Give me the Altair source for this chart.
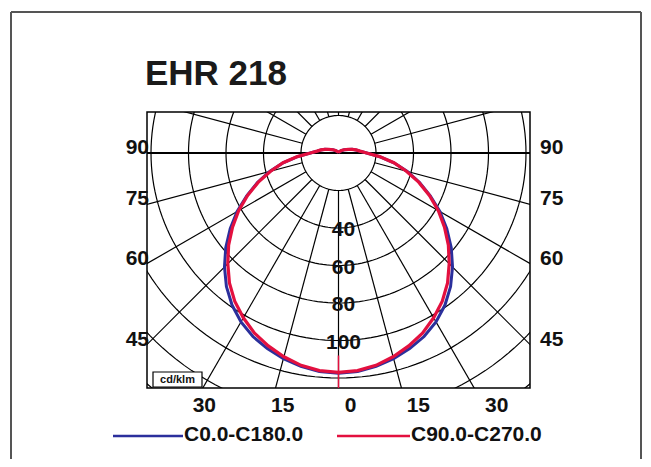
import math
import altair as alt
import pandas as pd

# ---------------- data ----------------
title_text = "EHR 218"
unit_label = "cd/klm"
legend_names = ["C0.0-C180.0", "C90.0-C270.0"]

gamma = [0, 5, 10, 15, 20, 25, 30, 35, 40, 45, 50, 55, 60, 65, 70, 75, 80, 85,
         90, 95, 100, 105, 110, 120, 130, 140, 150, 165, 180]
c0_c180 = [117.5, 117, 115.5, 113.5, 111, 108, 104, 99, 93, 86, 78.5, 70.5, 62.5,
           54, 46, 38, 30, 22, 15, 11.5, 9.5, 7.5, 5.5, 3.5, 2, 1.2, 0.7, 0.3, 0]
c90_c270 = [117, 116.5, 115, 112.5, 109.5, 106, 101.5, 96.5, 90.5, 83.5, 76.5, 69,
            61.5, 53.5, 45.5, 37.5, 30, 22, 15, 11.5, 9.5, 7.5, 5.5, 3.5, 2, 1.2,
            0.7, 0.3, 0]

ring_values = [20, 40, 60, 80, 100, 120, 140, 160]
ring_labels = [40, 60, 80, 100]
radial_angles = list(range(0, 360, 15))
side_labels = [90, 75, 60, 45]
bottom_labels = [-30, -15, 0, 15, 30]

# ---------------- layout ----------------
PX = 1.875                      # pixels per cd/klm
W, H = 383, 276                 # polar box in pixels
XH = W / 2 / PX
YTOP = 41 / PX
YBOT = YTOP - H / PX
FONT = "Liberation Sans"
BLUE = "#2b2f9c"
RED = "#e3103f"

xs = alt.Scale(domain=[-XH, XH], nice=False, zero=False)
ys = alt.Scale(domain=[YBOT, YTOP], nice=False, zero=False)


def X(f="x"):
    return alt.X(f"{f}:Q", scale=xs, axis=None)


def Y(f="y"):
    return alt.Y(f"{f}:Q", scale=ys, axis=None)


# rings
rows = []
for r in ring_values:
    for k in range(0, 361, 2):
        p = math.radians(k)
        rows.append({"ring": r, "k": k, "x": r * math.sin(p), "y": r * math.cos(p)})
rings_df = pd.DataFrame(rows)

# radial lines starting at the inner ring
rad_rows = []
for a in radial_angles:
    p = math.radians(a)
    r0, r1 = ring_values[0], 400
    rad_rows.append({"x": r0 * math.sin(p), "y": -r0 * math.cos(p),
                     "x2": r1 * math.sin(p), "y2": -r1 * math.cos(p)})
rad_df = pd.DataFrame(rad_rows)


def curve_df(vals):
    out = []
    full = [-g for g in gamma[::-1]] + gamma[1:]
    for i, g in enumerate(full):
        v = vals[gamma.index(abs(g))]
        p = math.radians(g)
        out.append({"i": i, "x": v * math.sin(p), "y": -v * math.cos(p)})
    return pd.DataFrame(out)


blue_df = curve_df(c0_c180)
red_df = curve_df(c90_c270)

ring_lab_df = pd.DataFrame({"x": [0] * len(ring_labels),
                            "y": [-v for v in ring_labels],
                            "t": [str(v) for v in ring_labels]})

side_df = pd.DataFrame({
    "y": [0 if a == 90 else -XH / math.tan(math.radians(a)) for a in side_labels],
    "t": [str(a) for a in side_labels]})
side_df["xl"] = -XH
side_df["xr"] = XH

BL = 135
bottom_df = pd.DataFrame({
    "x": [BL * math.tan(math.radians(a)) for a in bottom_labels],
    "y": [-BL] * len(bottom_labels),
    "t": [str(abs(a)) for a in bottom_labels]})

one = pd.DataFrame({"d": [0]})

# ---------------- layers ----------------
rings = alt.Chart(rings_df).mark_line(clip=True, color="black", strokeWidth=1.2).encode(
    x=X(), y=Y(), detail="ring:N", order="k:Q")

radials = alt.Chart(rad_df).mark_rule(clip=True, color="black", strokeWidth=1.2).encode(
    x=X(), y=Y(), x2="x2:Q", y2="y2:Q")

hline = alt.Chart(pd.DataFrame({"y": [0]})).mark_rule(color="black", strokeWidth=2).encode(
    y=Y())

blue = alt.Chart(blue_df).mark_line(clip=True, color=BLUE, strokeWidth=3).encode(
    x=X(), y=Y(), order="i:Q")
red = alt.Chart(red_df).mark_line(clip=True, color=RED, strokeWidth=3.2).encode(
    x=X(), y=Y(), order="i:Q")

red_tick = alt.Chart(pd.DataFrame({"x": [0], "y": [-(ring_labels[-1] + 8)], "y2": [YBOT]})).mark_rule(
    color=RED, strokeWidth=1.5).encode(x=X(), y=Y(), y2="y2:Q")

txt = dict(font=FONT, fontSize=21, fontWeight="bold", color="#111")

ring_text = alt.Chart(ring_lab_df).mark_text(baseline="middle", dx=5, dy=2, **txt).encode(
    x=X(), y=Y(), text="t:N")

left_text = alt.Chart(side_df).mark_text(align="right", baseline="alphabetic", dx=2, dy=1, **txt).encode(
    x=X("xl"), y=Y(), text="t:N")
right_text = alt.Chart(side_df).mark_text(align="left", baseline="alphabetic", dx=10, dy=1, **txt).encode(
    x=X("xr"), y=Y(), text="t:N")

bottom_text = alt.Chart(bottom_df).mark_text(align="center", baseline="middle", dx=12, **txt).encode(
    x=X(), y=Y(), text="t:N")

title = alt.Chart(one).mark_text(align="left", baseline="alphabetic", font=FONT, fontSize=35,
                                 fontWeight="bold", color="#1a1a1a").encode(
    x=alt.value(-2), y=alt.value(-27), text=alt.value(title_text))

unit_box = alt.Chart(one).mark_rect(fill="white", stroke="black", strokeWidth=1.2).encode(
    x=alt.value(6), x2=alt.value(55), y=alt.value(260), y2=alt.value(275))
unit_text = alt.Chart(one).mark_text(align="center", baseline="middle", font=FONT, fontSize=11,
                                     fontWeight="bold", color="#111").encode(
    x=alt.value(30.5), y=alt.value(268), text=alt.value(unit_label))

leg_blue = alt.Chart(one).mark_rule(color=BLUE, strokeWidth=2.5).encode(
    x=alt.value(-34), x2=alt.value(36), y=alt.value(324))
leg_blue_t = alt.Chart(one).mark_text(align="left", baseline="middle", font=FONT, fontSize=21,
                                      fontWeight="bold", color="#111").encode(
    x=alt.value(37), y=alt.value(323), text=alt.value(legend_names[0]))
leg_red = alt.Chart(one).mark_rule(color=RED, strokeWidth=2.5).encode(
    x=alt.value(190), x2=alt.value(263), y=alt.value(324))
leg_red_t = alt.Chart(one).mark_text(align="left", baseline="middle", font=FONT, fontSize=21,
                                     fontWeight="bold", color="#111").encode(
    x=alt.value(264), y=alt.value(323), text=alt.value(legend_names[1]))

frame_top = alt.Chart(one).mark_rule(color="#555", strokeWidth=2).encode(
    x=alt.value(-136), x2=alt.value(494), y=alt.value(-100))
frame_left = alt.Chart(one).mark_rule(color="#555", strokeWidth=2).encode(
    x=alt.value(-136), y=alt.value(-100), y2=alt.value(350))
frame_right = alt.Chart(one).mark_rule(color="#555", strokeWidth=2).encode(
    x=alt.value(494), y=alt.value(-100), y2=alt.value(350))

chart = alt.layer(
    rings, radials, hline, blue, red, red_tick,
    ring_text, left_text, right_text, bottom_text, title,
    unit_box, unit_text, leg_blue, leg_blue_t, leg_red, leg_red_t,
    frame_top, frame_left, frame_right,
).properties(
    width=W, height=H,
    padding={"left": 139, "top": 104, "right": 113, "bottom": 71},
    autosize=alt.AutoSizeParams(type="none"),
    background="white",
).configure_view(stroke="black", strokeWidth=1.5)

chart.save("out.html", embed_options={"renderer": "svg", "actions": False})
